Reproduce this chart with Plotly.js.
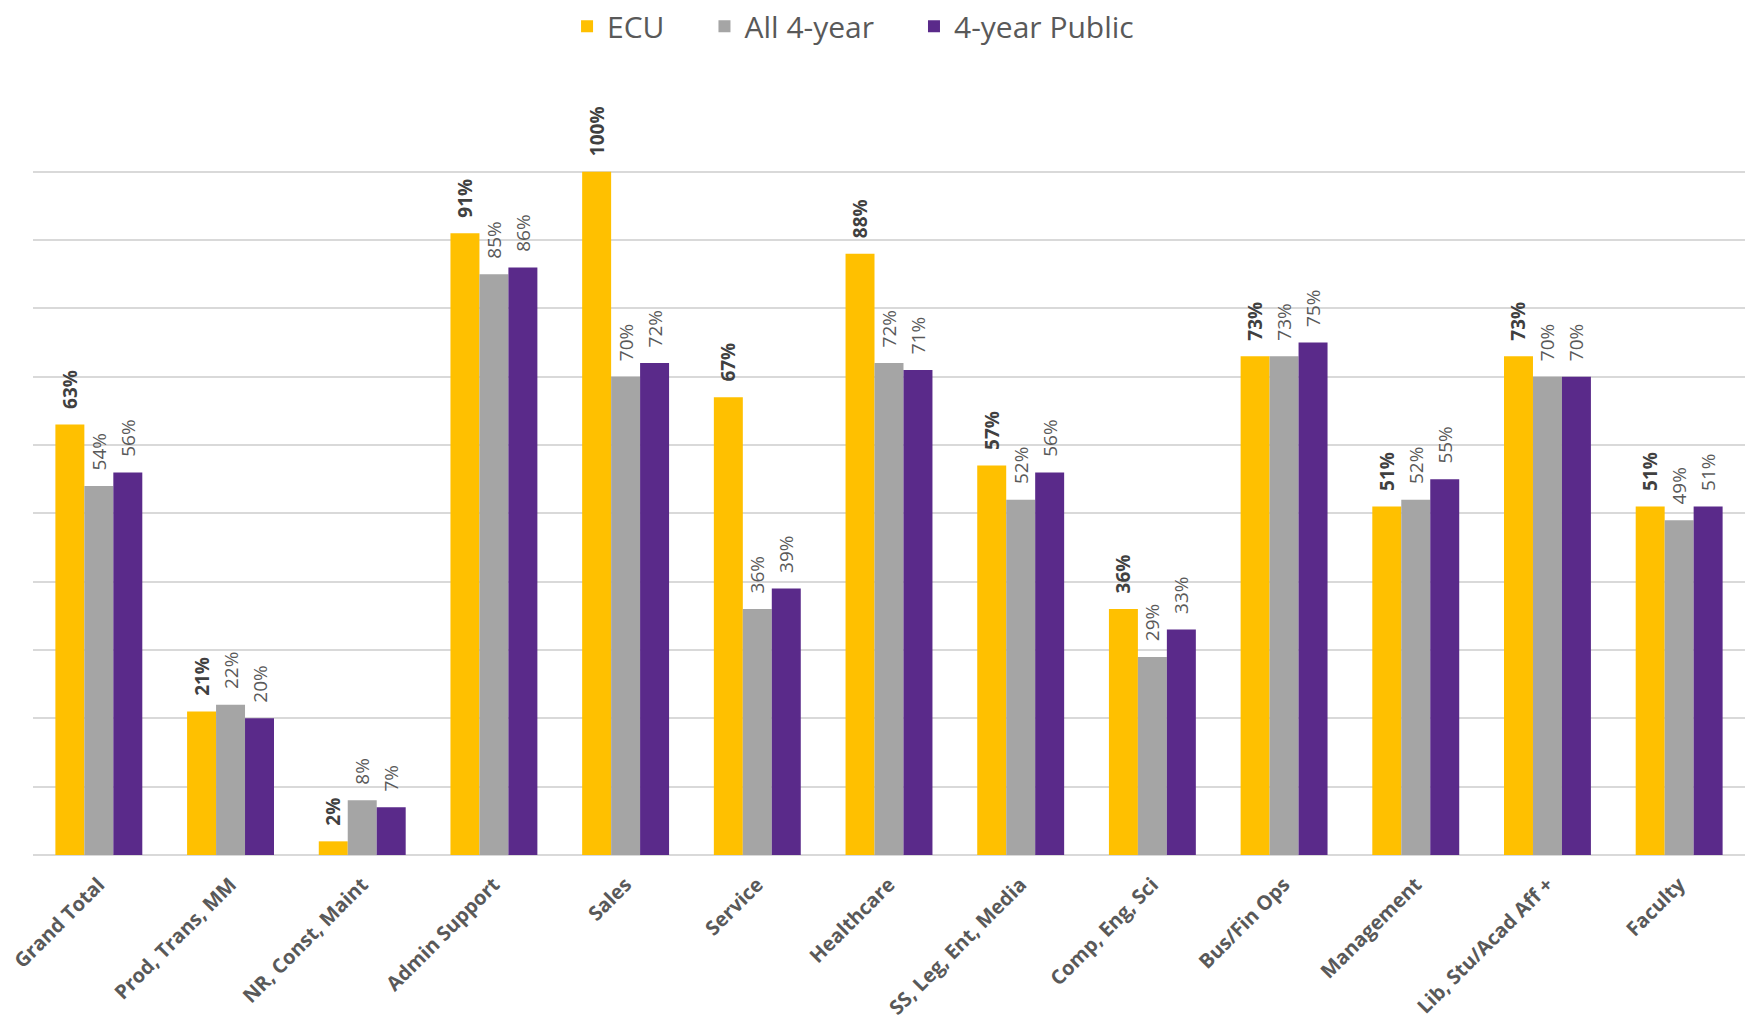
<!DOCTYPE html>
<html>
<head>
<meta charset="utf-8">
<script src="https://cdn.plot.ly/plotly-3.0.1.min.js"></script>
<style>
  html, body { margin: 0; padding: 0; background: #ffffff; }
  #chart { width: 1754px; height: 1022px; }
</style>
</head>
<body>
<div id="chart"></div>
<script>
const categories = ["Grand Total", "Prod, Trans, MM", "NR, Const, Maint", "Admin Support", "Sales", "Service", "Healthcare", "SS, Leg, Ent, Media", "Comp, Eng, Sci", "Bus/Fin Ops", "Management", "Lib, Stu/Acad Aff +", "Faculty"];
const ecu = [63, 21, 2, 91, 100, 67, 88, 57, 36, 73, 51, 73, 51];
const all4year = [54, 22, 8, 85, 70, 36, 72, 52, 29, 73, 52, 70, 49];
const public4year = [56, 20, 7, 86, 72, 39, 71, 56, 33, 75, 55, 70, 51];
const seriesNames = ["ECU", "All 4-year", "4-year Public"];
const seriesColors = ["#FFC000", "#A5A5A5", "#5A2A8A"];

const PAD = "\u2002\u2009";
function makeTrace(values, idx, bold) {
  return {
    type: "bar",
    name: seriesNames[idx] + (idx < 2 ? "\u2003\u2009" : ""),
    x: categories,
    y: values,
    marker: { color: seriesColors[idx], line: { width: 0 } },
    text: values.map(v => bold ? PAD + "<b>" + v + "%</b>" : PAD + v + "%"),
    textposition: "outside",
    textangle: -90,
    constraintext: "none",
    cliponaxis: false,
    textfont: { family: "Open Sans, sans-serif", size: 19, color: bold ? "#404040" : "#595959" },
    hoverinfo: "x+y"
  };
}

const data = [
  makeTrace(ecu, 0, true),
  makeTrace(all4year, 1, false),
  makeTrace(public4year, 2, false)
];

const layout = {
  width: 1754,
  height: 1022,
  paper_bgcolor: "#ffffff",
  plot_bgcolor: "#ffffff",
  margin: { l: 33, r: 9, t: 165, b: 167, autoexpand: false },
  barmode: "group",
  bargap: 0.34,
  bargroupgap: 0,
  showlegend: true,
  legend: {
    orientation: "h",
    x: 0.479,
    xanchor: "center",
    y: 1.201,
    yref: "paper",
    yanchor: "middle",
    font: { family: "Open Sans, sans-serif", size: 30, color: "#595959" },
    traceorder: "normal"
  },
  xaxis: {
    type: "category",
    tickangle: -45,
    tickfont: { family: "Open Sans, sans-serif", size: 20, color: "#595959", weight: "bold" },
    ticklabelstandoff: 13,
    showgrid: false,
    showline: false,
    ticks: "",
    automargin: false
  },
  yaxis: {
    range: [0, 101],
    tickmode: "linear",
    tick0: 0,
    dtick: 10,
    showticklabels: false,
    showgrid: true,
    gridcolor: "#D9D9D9",
    gridwidth: 2,
    zeroline: true,
    zerolinecolor: "#D9D9D9",
    zerolinewidth: 2,
    ticks: "",
    automargin: false
  }
};

Plotly.newPlot("chart", data, layout, { displayModeBar: false, staticPlot: true });
</script>
</body>
</html>
